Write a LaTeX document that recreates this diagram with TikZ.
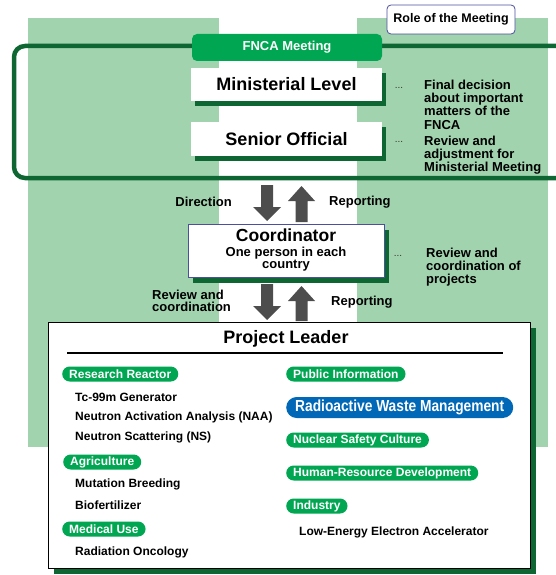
\documentclass[tikz,border=0pt]{standalone}
\usepackage{fontspec}
\usepackage{graphicx}
\setmainfont{Liberation Sans}
\usetikzlibrary{shadows}
\definecolor{bandgreen}{HTML}{A1D3AE}
\definecolor{dkgreen}{HTML}{0E6633}
\definecolor{pillgreen}{HTML}{00A651}
\definecolor{wasteblue}{HTML}{0068B7}
\definecolor{arrowgray}{HTML}{4D4D4D}
\definecolor{navyline}{HTML}{4A4F9E}
\tikzset{
  band/.style={fill=bandgreen, draw=none},
  lvlbox/.style={fill=white, draw=none, minimum width=191pt, inner sep=0pt,
    font=\bfseries\fontsize{18}{20}\selectfont,
    drop shadow={shadow xshift=4pt, shadow yshift=-5pt, fill=dkgreen, opacity=1}},
  pill/.style={fill=pillgreen, text=white, rounded corners=7.5pt, minimum height=15pt,
    inner xsep=7pt, inner ysep=0pt, font=\bfseries\fontsize{12}{12}\selectfont, anchor=west},
  item/.style={font=\bfseries\fontsize{12}{13}\selectfont, anchor=west, inner sep=0pt},
  note/.style={font=\bfseries\fontsize{13}{13.3}\selectfont, align=left, anchor=west, inner sep=0pt},
  lbl/.style={font=\bfseries\fontsize{13}{12.5}\selectfont, inner sep=0pt},
  coordline/.style={inner sep=0pt, font=\bfseries\fontsize{13}{13.5}\selectfont},
  dots/.style={font=\fontsize{10}{10}\selectfont, text=black!80, inner sep=0pt},
  blockarrow/.style={fill=arrowgray, draw=none}
}
\begin{document}
\begin{tikzpicture}[x=1pt,y=-1pt]
\path[use as bounding box] (0,0) rectangle (556,575);
\clip (0,0) rectangle (556,575);
% background bands
\fill[band] (28,18) rectangle (219,447);
\fill[band] (357,18) rectangle (548,447);
% FNCA meeting frame
\draw[dkgreen, line width=4.5pt, rounded corners=11pt] (14,46) rectangle (580,178);
% role box
\node[draw=navyline, line width=0.8pt, fill=white, rounded corners=4pt,
  minimum width=128pt, minimum height=29pt, inner sep=0pt,
  font=\bfseries\fontsize{12.5}{13}\selectfont] (role) at (451,19.5) {Role of the Meeting};
% FNCA tab
\node[fill=pillgreen, text=white, rounded corners=5pt, minimum width=190pt, minimum height=27pt,
  inner sep=0pt, font=\bfseries\fontsize{13}{14}\selectfont] (tab) at (287,47.5) {FNCA Meeting};
% levels
\node[lvlbox, minimum height=33pt] (minister) at (286.5,84.5) {Ministerial Level};
\node[lvlbox, minimum height=34pt] (senior) at (286.5,139) {Senior Official};
\node[dots] (d1) at (399,88) {...};
\node[dots] (d2) at (399,142) {...};
\node[note] (n1) at (424,104.5) {Final decision\\about important\\matters of the\\FNCA};
\node[note] (n2) at (424,155) {Review and\\adjustment for\\Ministerial Meeting};
% arrows between meeting and coordinator
\coordinate (a1) at (267,185);
\coordinate (a2) at (301.5,186);
\fill[blockarrow] (a1) ++(-6,0) -- ++(12,0) -- ++(0,22) -- ++(8,0) -- ++(-14,14) -- ++(-14,-14) -- ++(8,0) -- cycle;
\fill[blockarrow] (a2) -- ++(13.5,15) -- ++(-7.5,0) -- ++(0,21) -- ++(-12,0) -- ++(0,-21) -- ++(-7.5,0) -- cycle;
\node[lbl, anchor=east] (direction) at (232,202) {Direction};
\node[lbl, anchor=west] (report1) at (329,202) {Reporting};
% coordinator
\node[draw=navyline, line width=1pt, fill=white, minimum width=196pt, minimum height=53pt,
  inner sep=0pt, drop shadow={shadow xshift=5pt, shadow yshift=-6pt, fill=dkgreen, opacity=1}]
  (coord) at (286,250.5) {};
\node[inner sep=0pt, font=\bfseries\fontsize{17.5}{19}\selectfont] (coordtitle) at (286,235.5) {Coordinator};
\node[coordline] (coordsub1) at (286,253) {One person in each};
\node[coordline] (coordsub2) at (286,266) {country};
\node[dots] (d3) at (398,256) {...};
\node[note] (n3) at (426,267) {Review and\\coordination of\\projects};
% arrows between coordinator and project leader
\coordinate (a3) at (267,284);
\coordinate (a4) at (301.5,286);
\fill[blockarrow] (a3) ++(-6,0) -- ++(12,0) -- ++(0,22) -- ++(8,0) -- ++(-14,14) -- ++(-14,-14) -- ++(8,0) -- cycle;
\fill[blockarrow] (a4) -- ++(13.5,15) -- ++(-7.5,0) -- ++(0,20) -- ++(-12,0) -- ++(0,-20) -- ++(-7.5,0) -- cycle;
\node[lbl, anchor=west, align=left] (review) at (152,301) {Review and\\coordination};
\node[lbl, anchor=west] (report2) at (331,302) {Reporting};
% project leader
\node[draw=black, line width=1pt, fill=white, minimum width=482pt, minimum height=246pt,
  inner sep=0pt, drop shadow={shadow xshift=6pt, shadow yshift=-6pt, fill=dkgreen, opacity=1}]
  (pl) at (289,445) {};
\node[inner sep=0pt, font=\bfseries\fontsize{18}{20}\selectfont] (pltitle) at (286,339) {Project Leader};
\coordinate (ul1) at (67,353);
\coordinate (ul2) at (503,353);
\draw[line width=1.2pt] (ul1) -- (ul2);
% left column
\node[pill] (rr) at (62,374) {Research Reactor};
\node[item] (i1) at (75,397) {Tc-99m Generator};
\node[item] (i2) at (75,417) {Neutron Activation Analysis (NAA)};
\node[item] (i3) at (75,437) {Neutron Scattering (NS)};
\node[pill] (agri) at (63,462) {Agriculture};
\node[item] (i4) at (75,484) {Mutation Breeding};
\node[item] (i5) at (75,505) {Biofertilizer};
\node[pill] (med) at (62,529) {Medical Use};
\node[item] (i6) at (75,552) {Radiation Oncology};
% right column
\node[pill] (pub) at (286,374) {Public Information};
\node[fill=wasteblue, text=white, rounded corners=10.5pt, minimum height=21pt, inner xsep=9pt,
  inner ysep=0pt, anchor=west, font=\bfseries\fontsize{16}{17}\selectfont] (waste) at (286,407.5)
  {\scalebox{0.86}[1]{Radioactive Waste Management}};
\node[pill] (nsc) at (286,440) {Nuclear Safety Culture};
\node[pill] (hrd) at (286,473) {Human-Resource Development};
\node[pill] (ind) at (286,506) {Industry};
\node[item] (i7) at (299,532) {Low-Energy Electron Accelerator};
\end{tikzpicture}
\end{document}
